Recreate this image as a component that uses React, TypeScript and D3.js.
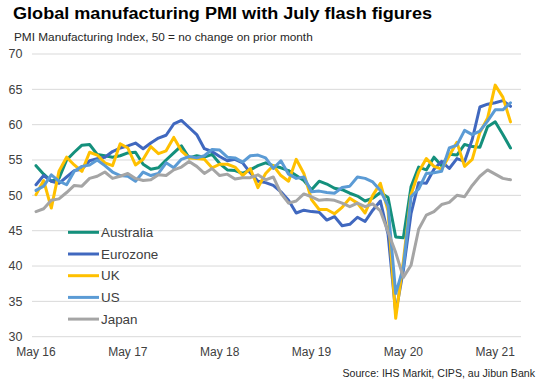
import React from 'react';
import * as d3 from 'd3';

// monthly categories, May 2016 .. Jul 2021
const months = d3.timeMonth.range(new Date(2016, 4, 1), new Date(2021, 7, 1));
const tickLabels = ['May 16', 'May 17', 'May 18', 'May 19', 'May 20', 'May 21'];
const yTicks = [30, 35, 40, 45, 50, 55, 60, 65, 70];

const australia = [
  54.2, 53.0, 52.0, 52.4, 55.0, 56.1, 57.1, 57.2, 55.8, 55.6, 55.4, 55.6,
  56.0, 56.1, 54.4, 53.7, 53.9, 55.0, 56.0, 57.0, 55.3, 55.6, 55.4, 55.8,
  54.5, 53.6, 53.5, 53.1, 53.6, 54.2, 54.6, 54.2, 53.9, 53.5, 52.8, 52.1,
  50.8, 52.0, 51.6, 51.0, 50.8, 50.3, 49.9, 49.2, 49.6, 50.4, 49.7, 44.1,
  44.0, 51.2, 54.0, 53.6, 55.4, 54.2, 55.8, 55.7, 57.2, 56.9, 56.8, 59.7,
  60.4, 58.6, 56.7,
];
const eurozone = [
  51.5, 52.8, 52.0, 51.7, 52.6, 53.5, 53.7, 54.9, 55.2, 55.4, 56.2, 56.7,
  57.0, 57.4, 56.6, 57.4, 58.1, 58.5, 60.1, 60.6, 59.6, 58.6, 56.6, 56.2,
  55.5, 54.9, 55.1, 54.6, 53.2, 52.0, 51.8, 51.4, 50.5, 49.3, 47.5, 47.9,
  47.7, 47.6, 46.5, 47.0, 45.7, 45.9, 46.9, 46.3, 47.9, 49.2, 44.5, 33.4,
  39.4, 47.4, 51.8, 51.7, 53.7, 54.8, 53.8, 55.2, 54.8, 57.9, 62.5, 62.9,
  63.1, 63.4, 62.6,
];
const uk = [
  50.1, 52.1, 48.2, 53.4, 55.4, 54.3, 53.4, 56.1, 55.7, 54.6, 54.2, 57.3,
  56.7, 54.3, 55.1, 56.9, 55.9, 56.3, 58.2, 56.3, 55.3, 55.2, 55.1, 53.9,
  54.4, 54.4, 54.0, 52.8, 53.8, 51.1, 53.1, 54.2, 52.8, 52.0, 55.1, 53.1,
  49.4, 48.0, 48.0, 47.4, 48.3, 49.6, 48.9, 47.5, 50.0, 51.7, 47.8, 32.6,
  40.7, 50.1, 53.3, 55.2, 54.1, 53.7, 55.6, 57.5, 54.1, 55.1, 58.9, 60.9,
  65.6, 63.9, 60.4,
];
const us = [
  50.7, 51.3, 52.9, 52.0, 51.5, 53.4, 54.1, 54.3, 55.0, 54.2, 53.3, 52.8,
  52.7, 52.0, 53.3, 52.8, 53.1, 54.6, 53.9, 55.1, 55.5, 55.3, 55.6, 56.5,
  56.4, 55.4, 55.3, 54.7, 55.6, 55.7, 55.3, 53.8, 54.9, 53.0, 52.4, 52.6,
  50.5, 50.6, 50.4, 50.3, 51.1, 51.3, 52.6, 52.4, 51.9, 50.7, 48.5, 36.1,
  39.8, 49.8, 50.9, 53.1, 53.2, 53.4, 56.7, 57.1, 59.2, 58.6, 59.1, 60.5,
  62.1, 62.1, 63.1,
];
const japan = [
  47.7, 48.1, 49.3, 49.5, 50.4, 51.4, 51.3, 52.4, 52.7, 53.3, 52.4, 52.7,
  53.1, 52.4, 52.1, 52.2, 52.9, 52.8, 53.6, 54.0, 54.8, 54.1, 53.1, 53.8,
  52.8, 53.0, 52.3, 52.5, 52.5, 52.9, 52.2, 52.6, 50.3, 48.9, 49.2, 50.2,
  49.8, 49.3, 49.4, 49.3, 48.9, 48.4, 48.9, 48.4, 48.8, 47.8, 44.8, 41.9,
  38.4, 40.1, 45.2, 47.2, 47.7, 48.7, 49.0, 50.0, 49.8, 51.4, 52.7, 53.6,
  53.0, 52.4, 52.2,
];

const seriesNames = ['Australia', 'Eurozone', 'UK', 'US', 'Japan'];
const seriesValues = [australia, eurozone, uk, us, japan];
const colors = ['#14907c', '#4068bf', '#ffc000', '#5b9bd5', '#a5a5a5'];

const W = 543;
const H = 385;
const font = 'Liberation Sans, Arial, sans-serif';

export default function App() {
  const idx = months.map((_, i) => i);
  const x = d3.scalePoint<number>().domain(idx).range([36, 510.5]);
  const y = d3.scaleLinear().domain([30, 70]).range([336.7, 54]);

  const line = d3
    .line<number>()
    .x((_, i) => x(i) as number)
    .y((d) => y(d));

  return (
    <svg
      width={W}
      height={H}
      style={{ position: 'absolute', left: 0, top: 0, background: '#fff' }}
      fontFamily={font}
    >
      <text
        x={13}
        y={18.5}
        fontSize={17.4}
        fontWeight="bold"
        fill="#000"
        textLength={419}
        lengthAdjust="spacingAndGlyphs"
      >
        Global manufacturing PMI with July flash figures
      </text>
      <text x={14} y={40.5} fontSize={11.8} fill="#262626">
        PMI Manufacturing Index, 50 = no change on prior month
      </text>

      {yTicks.map((t) => (
        <g key={t}>
          <line x1={32} x2={521} y1={y(t)} y2={y(t)} stroke="#d9d9d9" strokeWidth={1} />
          <text x={22.5} y={y(t)} dy="0.35em" textAnchor="end" fontSize={12.5} fill="#404040">
            {t}
          </text>
        </g>
      ))}

      {tickLabels.map((lab, k) => (
        <text key={lab} x={x(k * 12) as number} y={356} textAnchor="middle" fontSize={12} fill="#404040">
          {lab}
        </text>
      ))}

      {seriesValues.map((vals, s) => (
        <path
          key={seriesNames[s]}
          d={line(vals) || ''}
          fill="none"
          stroke={colors[s]}
          strokeWidth={3}
          strokeLinejoin="round"
          strokeLinecap="round"
        />
      ))}

      {seriesNames.map((name, s) => {
        const ly = 232.3 + s * 21.7;
        return (
          <g key={name}>
            <line x1={68} x2={99} y1={ly} y2={ly} stroke={colors[s]} strokeWidth={3} />
            <text x={101} y={ly} dy="0.35em" fontSize={13.4} fill="#404040">
              {name}
            </text>
          </g>
        );
      })}

      <text x={535} y={377} textAnchor="end" fontSize={10.6} fill="#262626">
        Source: IHS Markit, CIPS, au Jibun Bank
      </text>
    </svg>
  );
}
